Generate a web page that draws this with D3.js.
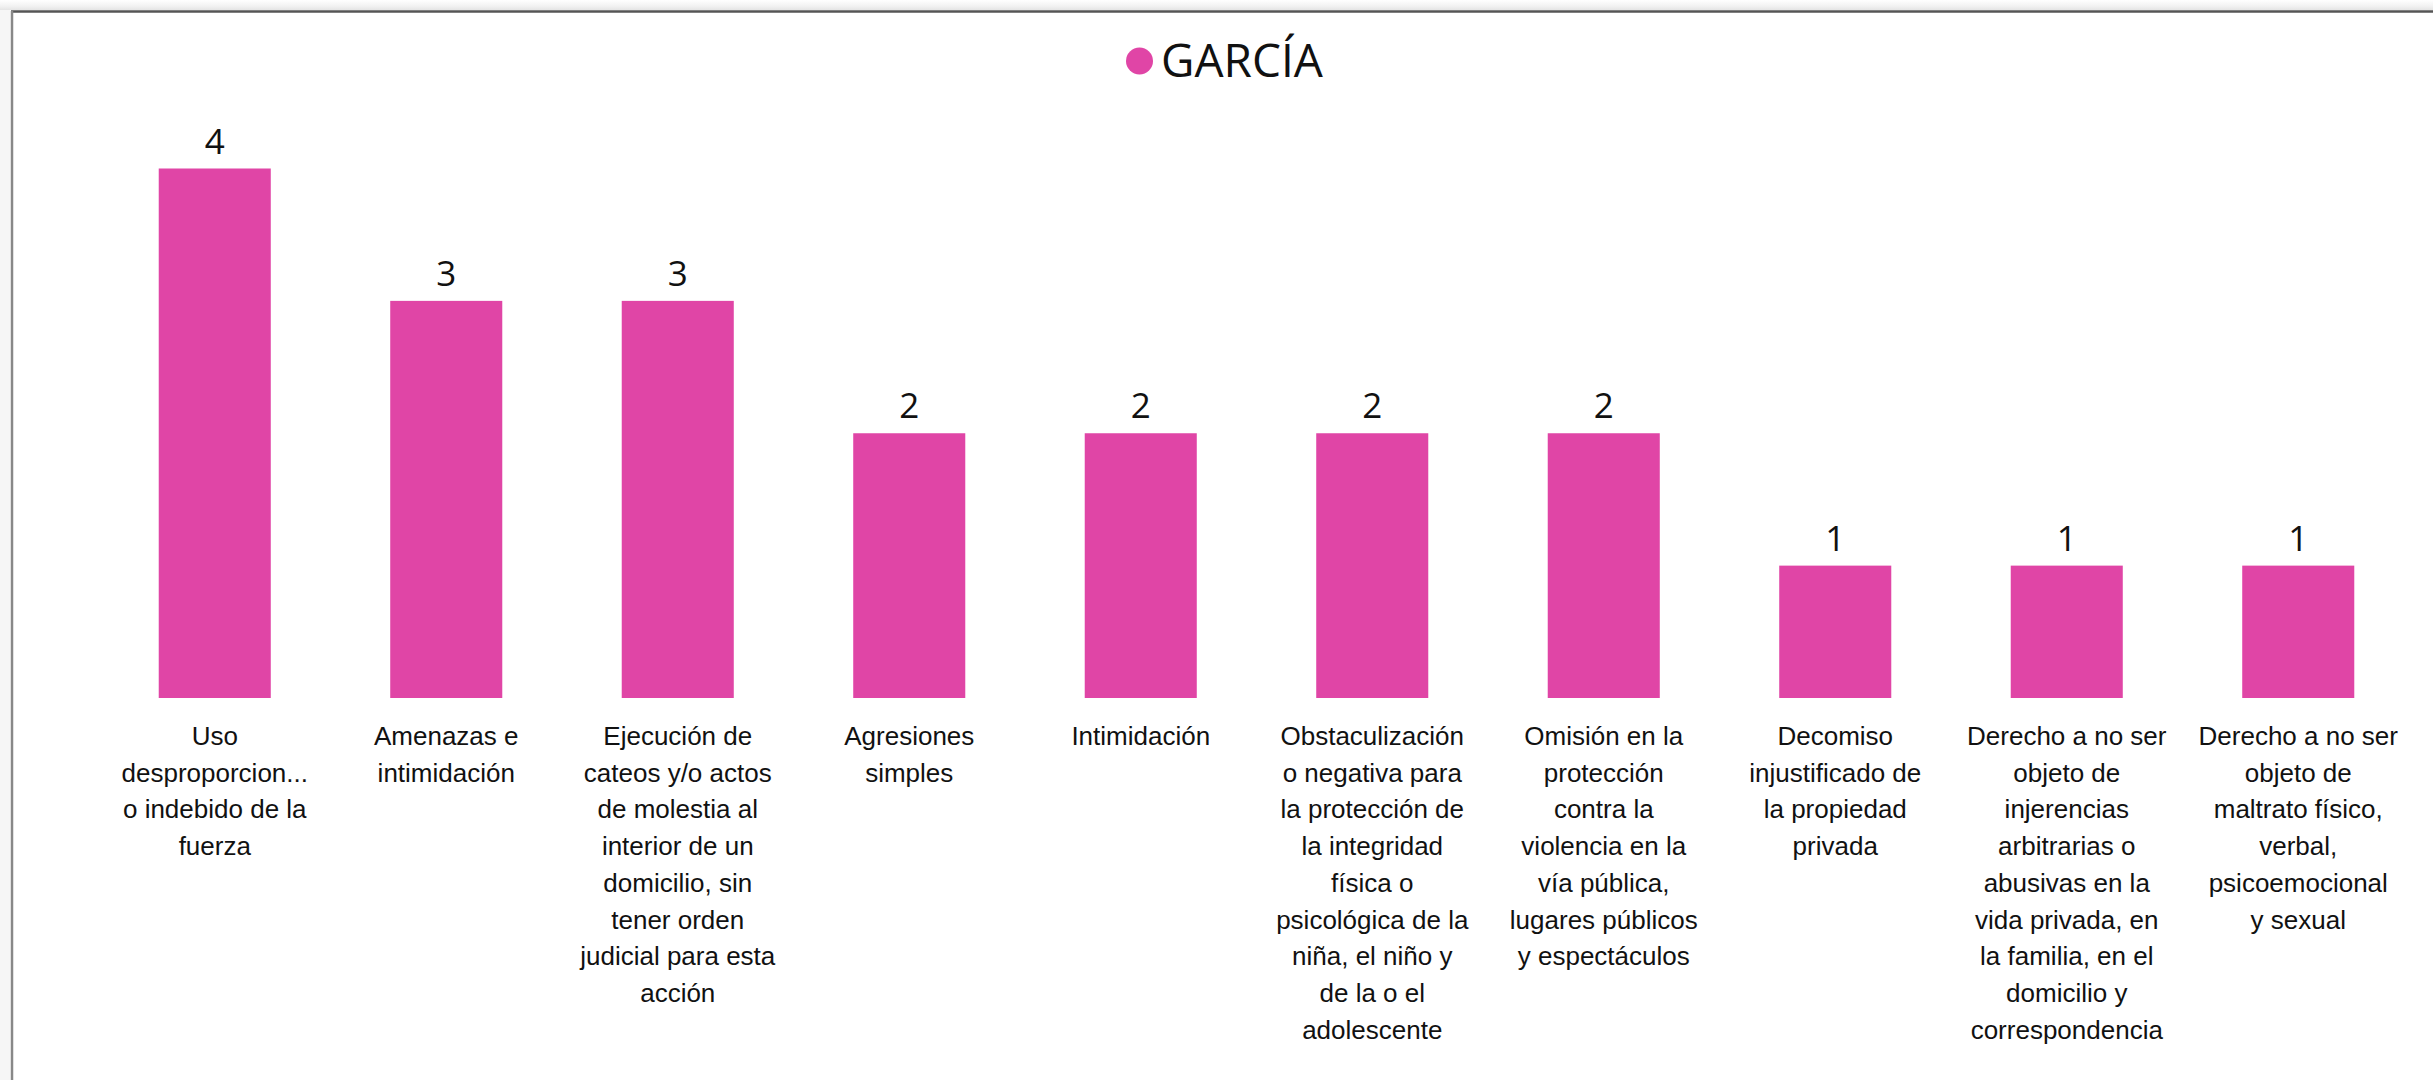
<!DOCTYPE html>
<html>
<head>
<meta charset="utf-8">
<script src="https://cdn.jsdelivr.net/npm/d3@7"></script>
<style>
  html, body { margin: 0; padding: 0; background: #fff; }
  svg { display: block; font-family: "Open Sans", sans-serif; }
</style>
</head>
<body>
<svg id="chart" width="2433" height="1080"></svg>
<script>
// data
const seriesName = "GARCÍA";
const categories = [
    ["Uso", "desproporcion...", "o indebido de la", "fuerza"],
    ["Amenazas e", "intimidación"],
    ["Ejecución de", "cateos y/o actos", "de molestia al", "interior de un", "domicilio, sin", "tener orden", "judicial para esta", "acción"],
    ["Agresiones", "simples"],
    ["Intimidación"],
    ["Obstaculización", "o negativa para", "la protección de", "la integridad", "física o", "psicológica de la", "niña, el niño y", "de la o el", "adolescente"],
    ["Omisión en la", "protección", "contra la", "violencia en la", "vía pública,", "lugares públicos", "y espectáculos"],
    ["Decomiso", "injustificado de", "la propiedad", "privada"],
    ["Derecho a no ser", "objeto de", "injerencias", "arbitrarias o", "abusivas en la", "vida privada, en", "la familia, en el", "domicilio y", "correspondencia"],
    ["Derecho a no ser", "objeto de", "maltrato físico,", "verbal,", "psicoemocional", "y sexual"]
];
const values = [4, 3, 3, 2, 2, 2, 2, 1, 1, 1];
const barColor = "#E045A6";

var svg = d3.select("#chart"),
    width = +svg.attr("width"),
    height = +svg.attr("height");

// frame / page shadow
var defs = svg.append("defs");
var grad = defs.append("linearGradient").attr("id", "shade")
    .attr("x1", 0).attr("y1", 0).attr("x2", 0).attr("y2", 1);
grad.append("stop").attr("offset", "0%").attr("stop-color", "#ffffff");
grad.append("stop").attr("offset", "60%").attr("stop-color", "#f2f2f2");
grad.append("stop").attr("offset", "100%").attr("stop-color", "#e4e4e4");
svg.append("rect").attr("x", 0).attr("y", 0).attr("width", width).attr("height", 10).attr("fill", "url(#shade)");
svg.append("rect").attr("x", 0).attr("y", 10).attr("width", 10).attr("height", height).attr("fill", "#f6f6f6");
svg.append("line").attr("x1", 11).attr("x2", width).attr("y1", 11.5).attr("y2", 11.5)
    .attr("stroke", "#555").attr("stroke-width", 2.5);
svg.append("line").attr("x1", 12).attr("x2", 12).attr("y1", 11).attr("y2", height)
    .attr("stroke", "#888").attr("stroke-width", 2.5);

var x = d3.scaleBand()
    .domain(d3.range(categories.length))
    .range([99, 2414])
    .paddingInner(0.516)
    .paddingOuter(0.258);

var y = d3.scaleLinear()
    .domain([0, 4])
    .range([698, 168.5]);

// bars
svg.append("g")
    .selectAll("rect")
    .data(values)
    .enter()
    .append("rect")
    .attr("x", function(d, i) { return x(i); })
    .attr("y", function(d) { return y(d); })
    .attr("width", x.bandwidth())
    .attr("height", function(d) { return y(0) - y(d); })
    .attr("fill", barColor);

// value labels
svg.append("g")
    .selectAll("text")
    .data(values)
    .enter()
    .append("text")
    .attr("x", function(d, i) { return x(i) + x.bandwidth() / 2; })
    .attr("y", function(d) { return y(d) - 15; })
    .attr("text-anchor", "middle")
    .attr("font-size", 35)
    .attr("fill", "#111")
    .text(function(d) { return d; });

// category labels (x axis, no line)
var xAxis = d3.axisBottom(x).tickSize(0).tickFormat("");
var axisG = svg.append("g").attr("transform", "translate(0," + y(0) + ")").call(xAxis);
axisG.select(".domain").remove();
axisG.selectAll(".tick")
    .append("text")
    .attr("text-anchor", "middle")
    .attr("font-size", 26)
    .attr("fill", "#111")
    .each(function(i) {
        var t = d3.select(this);
        categories[i].forEach(function(line, k) {
            t.append("tspan")
                .attr("x", 0)
                .attr("y", 47 + k * 36.7)
                .text(line);
        });
    });

// legend
var legend = svg.append("g");
legend.append("circle").attr("cx", 1139.5).attr("cy", 61).attr("r", 13.5).attr("fill", barColor);
legend.append("text")
    .attr("x", 1161)
    .attr("y", 77)
    .attr("font-size", 46)
    .attr("fill", "#111")
    .text(seriesName);
</script>
</body>
</html>
